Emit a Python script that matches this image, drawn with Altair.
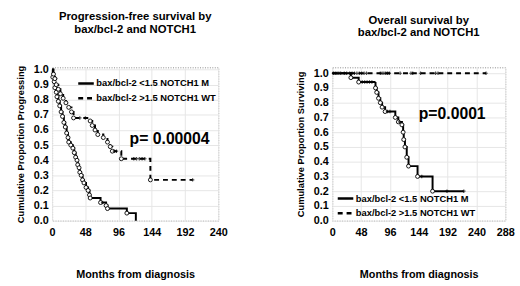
import altair as alt
import pandas as pd

M_LABEL = "bax/bcl-2 <1.5 NOTCH1 M"
WT_LABEL = "bax/bcl-2 >1.5 NOTCH1 WT"

# ---- Left panel: progression-free survival ----
L_M_t = [0, 1, 3, 4, 6, 7, 9, 11, 13, 15, 17, 19, 21, 23, 24, 27, 30, 32, 34, 36, 37, 39, 40, 42, 44, 46, 49, 52, 54, 55, 70, 78, 80, 108, 121]
L_M_s = [1.0, 0.95, 0.92, 0.88, 0.85, 0.82, 0.79, 0.76, 0.72, 0.69, 0.65, 0.62, 0.58, 0.55, 0.52, 0.50, 0.48, 0.45, 0.42, 0.40, 0.37, 0.35, 0.32, 0.30, 0.27, 0.25, 0.22, 0.20, 0.17, 0.15, 0.12, 0.10, 0.08, 0.05, 0.0]
L_M_end = 121
L_M_cens = [73]

L_WT_t = [0, 2, 4, 6, 9, 12, 16, 20, 24, 28, 31, 55, 58, 62, 66, 74, 80, 84, 87, 100, 142]
L_WT_s = [1.0, 0.97, 0.94, 0.90, 0.87, 0.84, 0.81, 0.78, 0.75, 0.72, 0.68, 0.66, 0.63, 0.60, 0.57, 0.55, 0.52, 0.49, 0.46, 0.41, 0.27]
L_WT_end = 203
L_WT_cens = [40, 48, 90, 93, 118, 122, 126, 130, 134, 203]

# ---- Right panel: overall survival ----
R_M_t = [0, 31, 44, 72, 74, 77, 80, 83, 88, 105, 110, 116, 118, 119, 121, 124, 127, 142, 167]
R_M_s = [1.0, 0.97, 0.94, 0.90, 0.87, 0.83, 0.80, 0.77, 0.74, 0.70, 0.67, 0.65, 0.60, 0.55, 0.50, 0.43, 0.37, 0.30, 0.20]
R_M_end = 219
R_M_cens = [50, 54, 58, 62, 66, 92, 96, 112, 149, 191, 219]

R_WT_t = [0]
R_WT_s = [1.0]
R_WT_end = 256
R_WT_cens = [2, 5, 8, 11, 14, 20, 24, 29, 33, 37, 41, 45, 49, 53, 57, 80, 83, 86, 89, 92, 95, 113, 131, 134, 147, 172, 176, 256]

FONT = "Liberation Sans"


def step_value(ts, ss, t):
    v = ss[0]
    for a, b in zip(ts, ss):
        if a <= t:
            v = b
    return v


def frames(groups):
    lines, circles, cens = [], [], []
    for label, ts, ss, end, cs in groups:
        for a, b in zip(ts, ss):
            lines.append({"t": a, "s": b, "g": label})
        lines.append({"t": end, "s": ss[-1], "g": label})
        for a, b in zip(ts[1:], ss[1:]):
            if b > 0:
                circles.append({"t": a, "s": b, "g": label})
        for c in cs:
            cens.append({"t": c, "s": step_value(ts, ss, c), "g": label})
    return pd.DataFrame(lines), pd.DataFrame(circles), pd.DataFrame(cens)


PLUS = "M-1,0L1,0M0,-1L0,1"


def panel(groups, xmax, ytop, ytitle, title, ptext, px, py, legx, legy, legrow, w):
    dl, dc, dcen = frames(groups)
    xs = alt.Scale(domain=[0, xmax], nice=False)
    ys = alt.Scale(domain=[0, ytop], nice=False)
    xax = alt.Axis(values=list(range(0, xmax + 1, 48)), title="Months from diagnosis",
                   titlePadding=32, labelPadding=6, labelOverlap=False, labelFlush=False)
    yax = alt.Axis(values=[i / 10 for i in range(11)], format=".1f", title=ytitle,
                   titlePadding=8, labelPadding=4, labelOverlap=False, labelFlush=False)
    line = alt.Chart(dl).mark_line(interpolate="step-after", color="black", strokeWidth=2).encode(
        x=alt.X("t:Q", scale=xs, axis=xax),
        y=alt.Y("s:Q", scale=ys, axis=yax),
        strokeDash=alt.StrokeDash(
            "g:N",
            scale=alt.Scale(domain=[M_LABEL, WT_LABEL], range=[[1, 0], [5, 4]]),
            legend=alt.Legend(orient="none", legendX=legx, legendY=legy, title=None,
                              symbolType="stroke", symbolStrokeWidth=2.5, symbolSize=250,
                              symbolStrokeColor="black", labelFont=FONT, labelFontSize=9.5,
                              labelFontWeight="bold", labelColor="black", rowPadding=legrow,
                              labelOffset=1, padding=0),
        ),
        detail="g:N",
    )
    circ = alt.Chart(dc).mark_point(shape="circle", size=16, filled=False, color="black",
                                    strokeWidth=0.9, fill="white", fillOpacity=1).encode(
        x=alt.X("t:Q", scale=xs, axis=xax), y=alt.Y("s:Q", scale=ys, axis=yax))
    cen = alt.Chart(dcen).mark_point(shape=PLUS, size=12, filled=False, color="black",
                                     strokeWidth=1.2).encode(
        x=alt.X("t:Q", scale=xs, axis=xax), y=alt.Y("s:Q", scale=ys, axis=yax))
    txt = alt.Chart(pd.DataFrame({"t": [px], "s": [py], "lab": [ptext]})).mark_text(
        align="left", baseline="middle", font=FONT, fontSize=16, fontWeight="bold", color="black"
    ).encode(x=alt.X("t:Q", scale=xs, axis=xax), y=alt.Y("s:Q", scale=ys, axis=yax), text="lab:N")
    return alt.layer(line, circ, cen, txt).properties(
        width=w, height=156,
        title=alt.TitleParams(text=title, font=FONT, fontSize=11.5, fontWeight="bold",
                              color="black", anchor="middle", offset=29, lineHeight=13),
    )


left = panel(
    [(M_LABEL, L_M_t, L_M_s, L_M_end, L_M_cens), (WT_LABEL, L_WT_t, L_WT_s, L_WT_end, L_WT_cens)],
    240, 1.015, "Cumulative Proportion Progressing",
    ["Progression-free survival by", "bax/bcl-2 and NOTCH1"],
    "p= 0.00004", 112, 0.54, 25, 7, -7, 169)

right = panel(
    [(M_LABEL, R_M_t, R_M_s, R_M_end, R_M_cens), (WT_LABEL, R_WT_t, R_WT_s, R_WT_end, R_WT_cens)],
    288, 1.04, "Cumulative Proportion Surviving",
    ["Overall survival by", "bax/bcl-2 and NOTCH1"],
    "p=0.0001", 144, 0.72, 4, 124, -3, 176)

chart = alt.hconcat(left, right, spacing=68).resolve_scale(
    strokeDash="independent").resolve_legend(strokeDash="independent").configure(
    padding={"left": 15, "top": 8, "right": 5, "bottom": 5},
    background="white",
).configure_view(
    stroke="#888888", strokeDash=[1, 1.5], strokeWidth=1
).configure_axis(
    labelFont=FONT, labelFontSize=11, labelFontWeight="bold", labelColor="black",
    titleFont=FONT, titleFontSize=11, titleFontWeight="bold", titleColor="black",
    gridColor="#e6e6e6", gridWidth=1, ticks=False, domain=False,
).configure_axisY(titleFontSize=9.5)

chart.save("out.html", embed_options={"renderer": "svg", "actions": False})
